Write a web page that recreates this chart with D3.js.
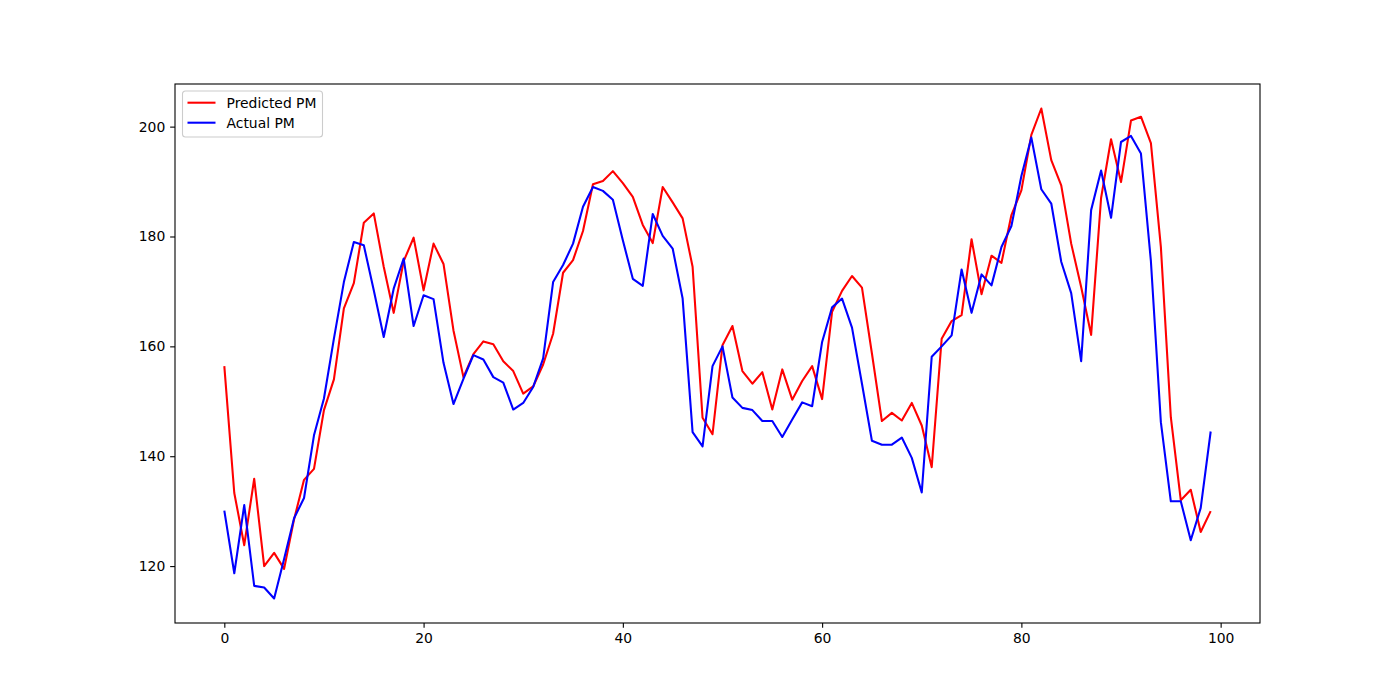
<!DOCTYPE html>
<html>
<head>
<meta charset="utf-8">
<script src="https://cdn.jsdelivr.net/npm/d3@7"></script>
<style>
  body { margin: 0; background: #fff; }
  svg { display: block; }
  text { font-family: "DejaVu Sans", sans-serif; }
</style>
</head>
<body>
<div id="chart"></div>
<script>
// Predicted vs actual PM (100 steps)
const predictedPM = [
  156.4, 133.3, 123.8, 135.9, 120.0, 122.4, 119.5, 128.5, 135.7, 137.7,
  148.4, 154.0, 166.9, 171.5, 182.5, 184.2, 174.5, 166.1, 175.5, 179.8,
  170.2, 178.7, 175.0, 162.9, 154.4, 158.6, 160.9, 160.4, 157.3, 155.5,
  151.4, 152.7, 156.7, 162.3, 173.4, 175.7, 181.0, 189.5, 190.1, 191.9,
  189.7, 187.2, 182.1, 178.8, 189.0, 186.2, 183.3, 174.5, 147.0, 144.0,
  160.2, 163.7, 155.5, 153.2, 155.3, 148.5, 155.8, 150.3, 153.7, 156.4,
  150.4, 166.3, 170.1, 172.8, 170.7, 158.7, 146.4, 147.9, 146.5, 149.7,
  145.6, 138.0, 161.4, 164.6, 165.7, 179.5, 169.5, 176.5, 175.2, 183.9,
  188.4, 198.5, 203.3, 193.9, 189.3, 178.7, 170.8, 162.1, 187.0, 197.7,
  189.9, 201.1, 201.8, 197.0, 178.1, 147.1, 132.0, 133.9, 126.2, 130.0
];

const actualPM = [
  130.1, 118.7, 131.1, 116.4, 116.1, 114.1, 121.3, 128.7, 132.4, 143.8,
  150.5, 161.4, 171.7, 179.0, 178.4, 170.2, 161.7, 170.5, 176.0, 163.7,
  169.3, 168.6, 157.0, 149.5, 154.1, 158.4, 157.6, 154.4, 153.4, 148.5,
  149.7, 152.6, 157.8, 171.7, 174.8, 178.7, 185.4, 189.0, 188.3, 186.7,
  179.3, 172.3, 171.0, 184.1, 180.1, 177.8, 168.7, 144.4, 141.8, 156.4,
  160.0, 150.7, 148.8, 148.4, 146.4, 146.4, 143.5, 146.7, 149.8, 149.1,
  160.8, 167.1, 168.7, 163.4, 153.2, 142.8, 142.1, 142.1, 143.4, 139.7,
  133.4, 158.1, 160.0, 162.0, 174.0, 166.1, 173.1, 171.1, 178.1, 181.9,
  191.0, 198.0, 188.6, 186.0, 175.4, 169.7, 157.3, 184.8, 192.0, 183.4,
  197.2, 198.3, 195.1, 175.5, 146.2, 131.8, 131.8, 124.7, 130.6, 144.5
];

const xTicks = [0, 20, 40, 60, 80, 100];
const yTicks = [120, 140, 160, 180, 200];

const seriesNames = ['Predicted PM', 'Actual PM'];
const seriesColors = ['#ff0000', '#0000ff'];

const width = 1400, height = 700;
// matplotlib default subplot box (0.125..0.9, 0.11..0.88)
const box = { left: 175, right: 1260, top: 84, bottom: 623 };

const svg = d3.select('#chart').append('svg')
  .attr('width', width)
  .attr('height', height);

const n = predictedPM.length;
const xPad = (n - 1) * 0.05;
const x = d3.scaleLinear()
  .domain([-xPad, n - 1 + xPad])
  .range([box.left, box.right]);

const allVals = predictedPM.concat(actualPM);
const [yMin, yMax] = d3.extent(allVals);
const yPad = (yMax - yMin) * 0.05;
const y = d3.scaleLinear()
  .domain([yMin - yPad, yMax + yPad])
  .range([box.bottom, box.top]);

svg.append('defs').append('clipPath')
  .attr('id', 'plot-clip')
  .append('rect')
  .attr('x', box.left).attr('y', box.top)
  .attr('width', box.right - box.left).attr('height', box.bottom - box.top);

// Lines
const line = d3.line()
  .x((d, i) => x(i))
  .y(d => y(d));

const lines = svg.append('g').attr('clip-path', 'url(#plot-clip)');
[predictedPM, actualPM].forEach((vals, k) => {
  lines.append('path')
    .datum(vals)
    .attr('d', line)
    .attr('fill', 'none')
    .attr('stroke', seriesColors[k])
    .attr('stroke-width', 2.08)
    .attr('stroke-linejoin', 'round');
});

// Axes
const tickLen = 4.86;
const xAxis = d3.axisBottom(x)
  .tickValues(xTicks)
  .tickFormat(d3.format('d'))
  .tickSize(tickLen)
  .tickSizeOuter(0)
  .tickPadding(4.9);

const yAxis = d3.axisLeft(y)
  .tickValues(yTicks)
  .tickFormat(d3.format('d'))
  .tickSize(tickLen)
  .tickSizeOuter(0)
  .tickPadding(4.9);

const gx = svg.append('g')
  .attr('transform', `translate(0,${box.bottom})`)
  .call(xAxis);
const gy = svg.append('g')
  .attr('transform', `translate(${box.left},0)`)
  .call(yAxis);

[gx, gy].forEach(g => {
  g.select('.domain').remove();
  g.selectAll('line').attr('stroke', '#000').attr('stroke-width', 1.1);
  g.selectAll('text')
    .attr('fill', '#000')
    .style('font-size', '13.9px')
    .style('font-family', '"DejaVu Sans", sans-serif');
});

// Spines
svg.append('rect')
  .attr('x', box.left).attr('y', box.top)
  .attr('width', box.right - box.left).attr('height', box.bottom - box.top)
  .attr('fill', 'none')
  .attr('stroke', '#000')
  .attr('stroke-width', 1.1);

// Legend
const legend = svg.append('g').attr('transform', 'translate(182.5,91)');
legend.append('rect')
  .attr('width', 140).attr('height', 46)
  .attr('rx', 3).attr('ry', 3)
  .attr('fill', '#fff')
  .attr('fill-opacity', 0.8)
  .attr('stroke', '#cccccc')
  .attr('stroke-width', 1.1);

seriesNames.forEach((name, k) => {
  const row = legend.append('g').attr('transform', `translate(0,${11.7 + k * 20})`);
  row.append('line')
    .attr('x1', 5).attr('x2', 33)
    .attr('stroke', seriesColors[k])
    .attr('stroke-width', 2.08);
  row.append('text')
    .attr('x', 44)
    .attr('dy', '0.35em')
    .style('font-size', '13.9px')
    .attr('fill', '#000')
    .text(name);
});
</script>
</body>
</html>
